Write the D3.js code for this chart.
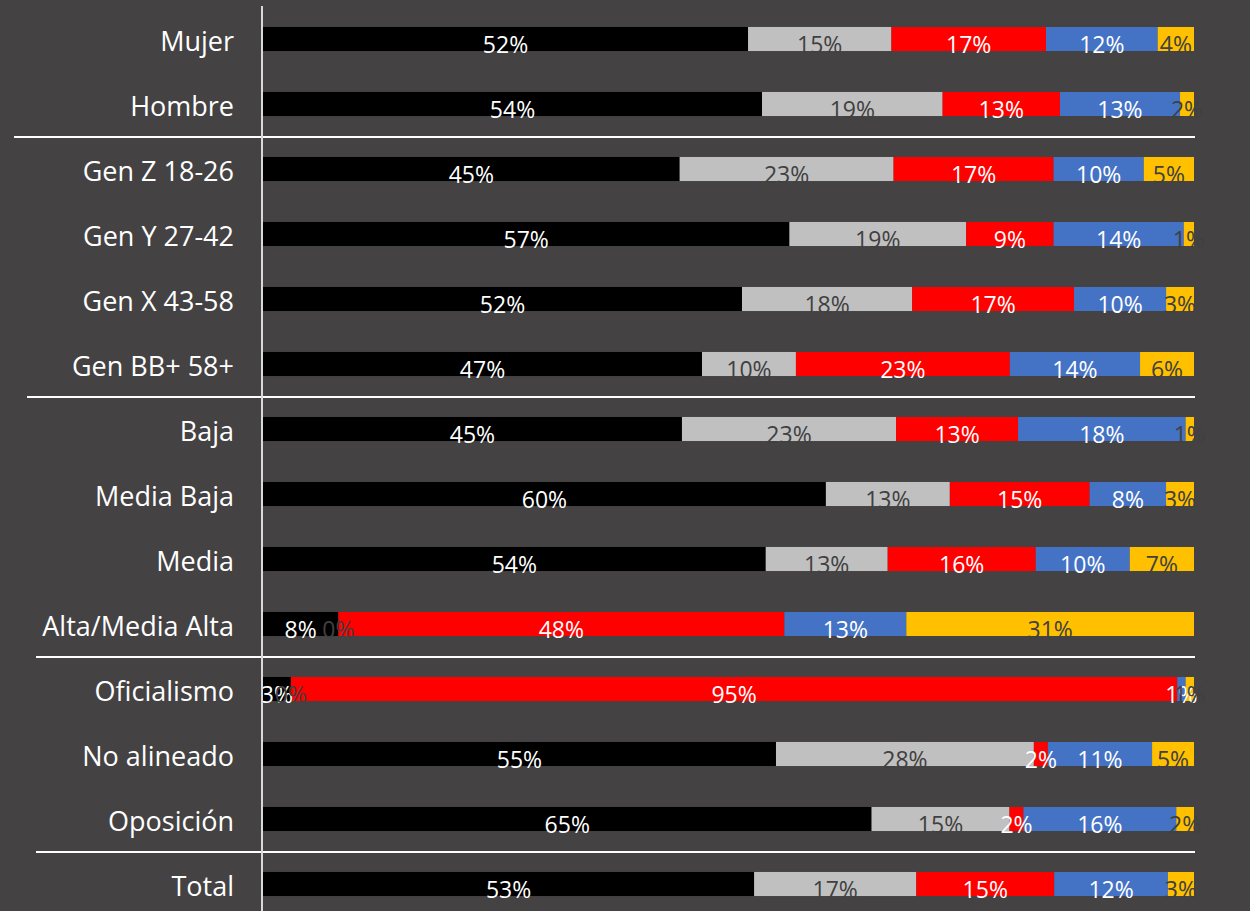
<!DOCTYPE html>
<html>
<head>
<meta charset="utf-8">
<script src="https://cdn.jsdelivr.net/npm/d3@7"></script>
<style>
  body { margin: 0; background: #444243; }
  svg { display: block; }
  text { font-family: "Open Sans", "Noto Sans", sans-serif; }
</style>
</head>
<body>
<svg id="chart" width="1250" height="911"></svg>
<script>
const categories = ["Mujer", "Hombre", "Gen Z 18-26", "Gen Y 27-42", "Gen X 43-58", "Gen BB+ 58+",
  "Baja", "Media Baja", "Media", "Alta/Media Alta", "Oficialismo", "No alineado", "Oposición", "Total"];
// shares in percent (labels are rounded)
const s1 = [52.1, 53.6, 44.8, 56.6, 51.5, 47.2, 45.0, 60.4, 54.0, 8.1, 3.0, 55.1, 65.3, 52.7];
const s2 = [15.4, 19.4, 23.0, 19.0, 18.3, 10.1, 23.0, 13.3, 13.1, 0, 0, 27.7, 14.8, 17.4];
const s3 = [16.6, 12.6, 17.2, 9.4, 17.4, 23.0, 13.1, 15.0, 15.9, 47.9, 95.3, 1.5, 1.5, 14.8];
const s4 = [12.0, 12.9, 9.7, 14.0, 9.9, 14.0, 18.0, 8.2, 10.1, 13.1, 0.9, 11.2, 16.4, 12.2];
const s5 = [3.9, 1.5, 5.4, 1.1, 3.0, 5.8, 0.9, 3.0, 6.9, 30.9, 0.9, 4.5, 1.9, 2.8];
// separators drawn after these categories
const separators = [["Hombre", 14], ["Gen BB+ 58+", 27], ["Alta/Media Alta", 36], ["Oposición", 36]];

const colors = ["#000000", "#c0c0c0", "#ff0000", "#4472c4", "#ffc000"];
const labelColors = ["#ffffff", "#404040", "#ffffff", "#ffffff", "#404040"];

const svg = d3.select("#chart");
const left = 263, right = 1194;

const rows = categories.map((c, i) => {
  const vals = [s1[i], s2[i], s3[i], s4[i], s5[i]];
  const sum = d3.sum(vals);
  let acc = 0;
  return {
    cat: c,
    segs: vals.map((v, k) => {
      const seg = { k, v, x0: acc / sum, x1: (acc + v) / sum };
      acc += v;
      return seg;
    })
  };
});

const x = d3.scaleLinear().domain([0, 1]).range([left, right]);
const y = d3.scaleBand().domain(categories).range([6.5, 916.5]).paddingInner(0.63).paddingOuter(0.315);

const g = svg.selectAll("g.row").data(rows).join("g").attr("class", "row")
  .attr("transform", d => `translate(0,${y(d.cat)})`);

g.selectAll("rect").data(d => d.segs).join("rect")
  .attr("x", d => x(d.x0))
  .attr("width", d => x(d.x1) - x(d.x0))
  .attr("y", 0)
  .attr("height", y.bandwidth())
  .attr("fill", d => colors[d.k]);

g.selectAll("text.val").data(d => d.segs).join("text").attr("class", "val")
  .attr("x", d => (x(d.x0) + x(d.x1)) / 2)
  .attr("y", y.bandwidth() / 2 + 5)
  .attr("text-anchor", "middle")
  .attr("dominant-baseline", "central")
  .attr("font-size", 23)
  .attr("fill", d => labelColors[d.k])
  .text(d => Math.round(d.v) + "%");

svg.selectAll("text.cat").data(categories).join("text").attr("class", "cat")
  .attr("x", 234)
  .attr("y", d => y(d) + y.bandwidth() / 2 + 1)
  .attr("text-anchor", "end")
  .attr("dominant-baseline", "central")
  .attr("font-size", 27)
  .attr("fill", "#ffffff")
  .text(d => d);

// separators
svg.selectAll("line.sep").data(separators).join("line").attr("class", "sep")
  .attr("x1", d => d[1])
  .attr("x2", 1195)
  .attr("y1", d => y(d[0]) + y.step() - (y.step() - y.bandwidth()) / 2 + 0.5)
  .attr("y2", d => y(d[0]) + y.step() - (y.step() - y.bandwidth()) / 2 + 0.5)
  .attr("stroke", "#ffffff")
  .attr("stroke-width", 2);

// vertical axis line
svg.append("line")
  .attr("x1", left - 1).attr("x2", left - 1)
  .attr("y1", 6).attr("y2", 911)
  .attr("stroke", "#d9d9d9")
  .attr("stroke-width", 2);
</script>
</body>
</html>
